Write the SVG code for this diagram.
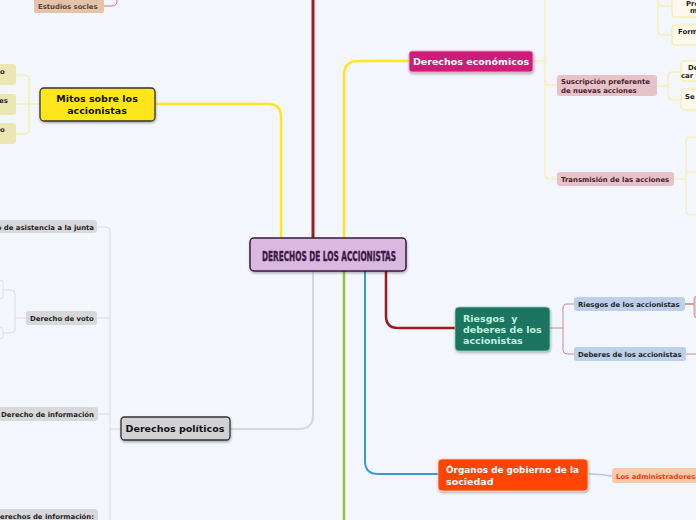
<svg xmlns="http://www.w3.org/2000/svg" width="696" height="520" viewBox="0 0 696 520">
<defs>
<filter id="sh" x="-10%" y="-10%" width="130%" height="140%"><feDropShadow dx="0.5" dy="1.5" stdDeviation="1" flood-color="#000" flood-opacity="0.3"/></filter>
<style>
text{font-family:"DejaVu Sans",Verdana,sans-serif;font-weight:bold}
.sm{font-size:6.9px;fill:#1e1e24}
.main{font-size:9.5px}
.c{fill:none;stroke-linecap:round}
</style>
</defs>
<rect width="696" height="520" fill="#f3f6fd"/>
<g id="connectors">
<path class="c" d="M313 0V238" stroke="#a01a1a" stroke-width="3"/>
<path class="c" d="M155 104H268Q281 104 281 117V238" stroke="#ffe61e" stroke-width="2.5"/>
<path class="c" d="M409 61H358Q344 61 344 75V238" stroke="#ffe61e" stroke-width="2.5"/>
<path class="c" d="M313 271V415Q313 429 299 429H230" stroke="#d6d6dc" stroke-width="2"/>
<path class="c" d="M344 271V520" stroke="#8cc63f" stroke-width="2.5"/>
<path class="c" d="M365 271V461Q365 474 378 474H438" stroke="#3a9ad9" stroke-width="2"/>
<path class="c" d="M386 271V316Q386 328 398 328H455" stroke="#a01a1a" stroke-width="2.5"/>
<path class="c" d="M104 6H112Q117 6 117 1V0" stroke="#d07a80" stroke-width="1"/>
<path class="c" d="M40 104H29M16 75H25Q29 75 29 79V130Q29 134 25 134H16M16 104H29" stroke="#f8ea8a" stroke-width="1"/>
<path class="c" d="M533 61H545M545 0V175Q545 179 549 179H557M545 81Q545 85 549 85H557" stroke="#fbeb96" stroke-width="1"/>
<path class="c" d="M658 0V31Q658 35 662 35H672M658 2Q658 6 662 6H672" stroke="#fbeb96" stroke-width="1"/>
<path class="c" d="M657 86H668M668 76Q668 72 672 72H681M668 76V96Q668 100 672 100H681" stroke="#fbeb96" stroke-width="1"/>
<path class="c" d="M674 179H686M686 141Q686 137 690 137H696M686 141V211Q686 215 690 215H696M686 172H696" stroke="#fbeb96" stroke-width="1"/>
<path class="c" d="M550 328H563M563 308Q563 304 567 304H574M563 308V350Q563 354 567 354H574" stroke="#d08a8a" stroke-width="1"/>
<path class="c" d="M685 304H696" stroke="#c0403a" stroke-width="1.2"/>
<path class="c" d="M686 354H696" stroke="#d08a8a" stroke-width="1.2"/>
<path class="c" d="M588 474Q600 474 612 476" stroke="#a8cce8" stroke-width="1.5"/>
<path class="c" d="M121 429H110M97 227H106Q110 227 110 231V520M97 318H110M98 414H110" stroke="#dcdce2" stroke-width="1"/>
<path class="c" d="M26 318H15M3 290H11Q15 290 15 294V329Q15 333 11 333H3" stroke="#dcdce2" stroke-width="1"/>
</g>
<g id="central">
<rect x="250" y="238" width="156" height="33" rx="4" fill="#dbb8e0" stroke="#3a1a42" stroke-width="1.5" filter="url(#sh)"/>
<text x="329" y="261" text-anchor="middle" textLength="134" lengthAdjust="spacingAndGlyphs" stroke="#3a1a45" stroke-width="0.4" style="font-family:'DejaVu Sans Condensed','DejaVu Sans',sans-serif;font-size:14px;fill:#3a1a45">DERECHOS DE LOS ACCIONISTAS</text>
</g>
<g id="estudios">
<rect x="34" y="-4" width="70" height="17" rx="2.5" fill="#e5c2aa"/>
<text class="sm" x="38" y="9" style="fill:#5a4535">Estudios socles</text>
</g>
<g id="mitos">
<rect x="40" y="88" width="115" height="33" rx="4" fill="#ffe61a" stroke="#333" stroke-width="1.3" filter="url(#sh)"/>
<text class="main" x="97" y="102" text-anchor="middle" fill="#111">Mitos sobre los</text>
<text class="main" x="97" y="114" text-anchor="middle" fill="#111">accionistas</text>
</g>
<g id="mitos-1"><rect x="-10" y="64" width="26" height="21" rx="3" fill="#ebe6b2"/><text class="sm" x="0" y="74" fill="#333">o</text></g>
<g id="mitos-2"><rect x="-10" y="94" width="26" height="21" rx="3" fill="#ebe6b2"/><text class="sm" x="-1" y="103" fill="#333">es</text></g>
<g id="mitos-3"><rect x="-10" y="123" width="26" height="21" rx="3" fill="#ebe6b2"/><text class="sm" x="0" y="132" fill="#333">o</text></g>
<g id="economicos">
<rect x="409" y="51" width="124" height="21" rx="3" fill="#cf1a79" stroke="#e6a0c4" stroke-width="1" filter="url(#sh)"/>
<text class="main" x="471" y="65" text-anchor="middle" fill="#fff">Derechos económicos</text>
</g>
<g id="suscripcion">
<rect x="557" y="75" width="100" height="21" rx="3" fill="#e6c3c8"/>
<text class="sm" x="561" y="84" style="fill:#4a1a2c">Suscripción preferente</text>
<text class="sm" x="561" y="93" style="fill:#4a1a2c">de nuevas acciones</text>
</g>
<g id="transmision">
<rect x="557" y="172" width="117" height="14" rx="3" fill="#e6c3c8"/>
<text class="sm" x="561" y="182" style="fill:#4a1a2c">Transmisión de las acciones</text>
</g>
<g id="eco-pro"><rect x="672" y="-4" width="40" height="21" rx="3" fill="#fbf8ec" stroke="#f6ea96" stroke-width="1"/><text class="sm" x="686" y="6">Pro</text><text class="sm" x="690" y="13">m</text></g>
<g id="eco-form"><rect x="672" y="25" width="40" height="20" rx="3" fill="#fbf8ec" stroke="#f6ea96" stroke-width="1"/><text class="sm" x="678" y="34">Form</text></g>
<g id="sus-de"><rect x="681" y="61" width="30" height="20" rx="3" fill="#fbf8ec" stroke="#f6ea96" stroke-width="1"/><text class="sm" x="688" y="70">De</text><text class="sm" x="681" y="78">car</text></g>
<g id="sus-se"><rect x="681" y="89" width="30" height="21" rx="3" fill="#fbf8ec" stroke="#f6ea96" stroke-width="1"/><text class="sm" x="685" y="99">Se p</text></g>
<g id="riesgos">
<rect x="455" y="307" width="95" height="44" rx="4" fill="#1a7560" stroke="#8ad0b8" stroke-width="0.8" filter="url(#sh)"/>
<text class="main" x="463" y="322" fill="#bff2dc">Riesgos&#160; y</text>
<text class="main" x="463" y="333" fill="#bff2dc">deberes de los</text>
<text class="main" x="463" y="344" fill="#bff2dc">accionistas</text>
</g>
<g id="riesgos-acc"><rect x="574" y="297" width="111" height="14" rx="3" fill="#bcd0ea"/><text class="sm" x="578" y="307">Riesgos de los accionistas</text></g>
<g id="deberes-acc"><rect x="574" y="347" width="112" height="14" rx="3" fill="#bcd0ea"/><text class="sm" x="578" y="357">Deberes de los accionistas</text></g>
<g id="riesgos-next"><rect x="694" y="296" width="20" height="22" rx="3" fill="#e8c8cc" stroke="#d08a8a" stroke-width="0.8"/></g>
<g id="organos">
<rect x="438" y="459" width="150" height="32" rx="4" fill="#ff4500" stroke="#ffd0b8" stroke-width="0.8" filter="url(#sh)"/>
<text class="main" x="446" y="473" fill="#fff" textLength="133" lengthAdjust="spacingAndGlyphs">Órganos de gobierno de la</text>
<text class="main" x="446" y="485" fill="#fff">sociedad</text>
</g>
<g id="administradores"><rect x="612" y="468" width="90" height="15" rx="3" fill="#f8c8a8"/><text class="sm" x="616" y="478.5" style="fill:#e8400e">Los administradores</text></g>
<g id="politicos">
<rect x="121" y="417" width="109" height="23" rx="3.5" fill="#d2d2d4" stroke="#333" stroke-width="1.3" filter="url(#sh)"/>
<text class="main" x="175" y="432" text-anchor="middle" fill="#111">Derechos políticos</text>
</g>
<g id="asistencia"><rect x="-10" y="220" width="107" height="13" rx="3" fill="#d8d8da"/><text class="sm" x="94" y="229.5" text-anchor="end">o de asistencia a la junta</text></g>
<g id="voto"><rect x="26" y="311" width="71" height="14" rx="3" fill="#d8d8da"/><text class="sm" x="30" y="321">Derecho de voto</text></g>
<g id="voto-1"><rect x="-10" y="280" width="13" height="19" rx="3" fill="#f3f6fd" stroke="#dcdce2" stroke-width="0.8"/></g>
<g id="voto-2"><rect x="-10" y="327" width="13" height="12" rx="3" fill="#f3f6fd" stroke="#dcdce2" stroke-width="0.8"/></g>
<g id="informacion"><rect x="-10" y="407" width="108" height="14" rx="3" fill="#d8d8da"/><text class="sm" x="94" y="417" text-anchor="end">Derecho de información</text></g>
<g id="informacion2"><rect x="-10" y="509" width="108" height="16" rx="3" fill="#d8d8da"/><text class="sm" x="94" y="519" text-anchor="end">Derechos de información:</text></g>
</svg>
